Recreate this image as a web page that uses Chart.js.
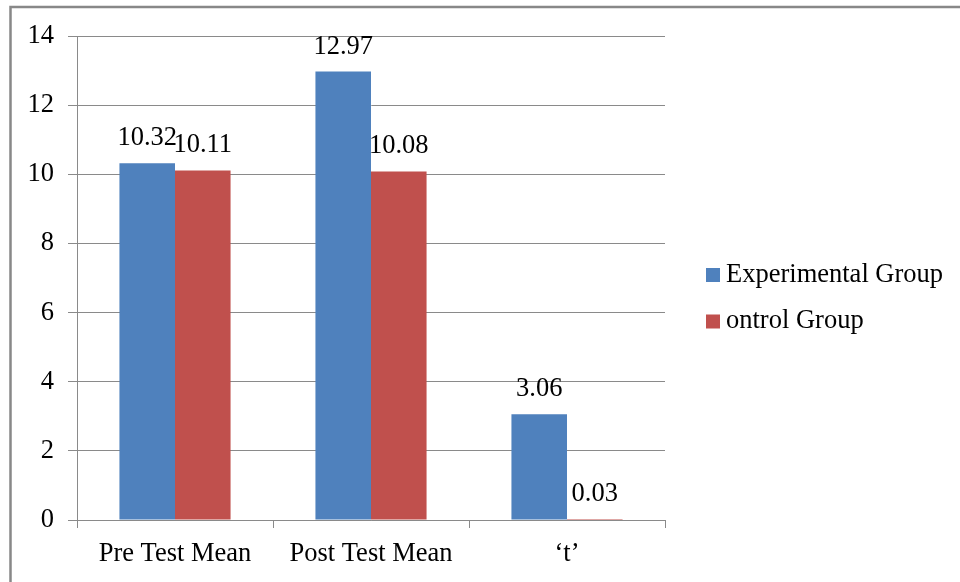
<!DOCTYPE html>
<html>
<head>
<meta charset="utf-8">
<script src="https://cdn.jsdelivr.net/npm/chart.js@4.4.0/dist/chart.umd.min.js"></script>
<style>
  body { margin: 0; background: #fff; }
  .chart_wrap { position: relative; width: 960px; height: 582px; }
</style>
</head>
<body>
<div class="chart_wrap"><canvas id="barChart"></canvas></div>
<script>
// 데이터
var categories = ['Pre Test Mean', 'Post Test Mean', '\u2018t\u2019'];
var seriesNames = ['Experimental Group', 'ontrol Group'];
var experimentalValues = [10.32, 12.97, 3.06];
var controlValues = [10.11, 10.08, 0.03];
var yTicks = [0, 2, 4, 6, 8, 10, 12, 14];

var seriesColors = ['#4F81BD', '#C0504D'];
var gridColor = '#8a8a8a';
var serifFont = '"Liberation Serif", "Times New Roman", serif';
var fontSize = 26.5;

Chart.defaults.font.family = serifFont;
Chart.defaults.font.size = fontSize;
Chart.defaults.color = '#000';

// 바깥 테두리
var outerFrame = {
  id: 'outerFrame',
  beforeDraw: function(chart) {
    var ctx = chart.ctx;
    ctx.save();
    ctx.strokeStyle = '#888';
    ctx.lineWidth = 2.5;
    ctx.strokeRect(10.5, 7, 1000, 1000);
    ctx.restore();
  }
};

// 막대 위 값 표시
var valueLabels = {
  id: 'valueLabels',
  afterDatasetsDraw: function(chart) {
    var ctx = chart.ctx;
    ctx.save();
    ctx.font = fontSize + 'px ' + serifFont;
    ctx.fillStyle = '#000';
    ctx.textAlign = 'center';
    ctx.textBaseline = 'middle';
    chart.data.datasets.forEach(function(ds, i) {
      chart.getDatasetMeta(i).data.forEach(function(bar, j) {
        ctx.fillText(ds.data[j].toFixed(2), bar.x, bar.y - 25);
      });
    });
    ctx.restore();
  }
};

// 오른쪽 범례
var sideLegend = {
  id: 'sideLegend',
  afterDraw: function(chart) {
    var ctx = chart.ctx;
    var x = chart.chartArea.right + 41;
    var y = 275;
    ctx.save();
    ctx.font = fontSize + 'px ' + serifFont;
    ctx.textAlign = 'left';
    ctx.textBaseline = 'middle';
    chart.data.datasets.forEach(function(ds) {
      ctx.fillStyle = ds.backgroundColor;
      ctx.fillRect(x, y - 7, 14, 14);
      ctx.fillStyle = '#000';
      ctx.fillText(ds.label, x + 20, y);
      y += 46.5;
    });
    ctx.restore();
  }
};

var barChart = document.getElementById('barChart');
var myChart = new Chart(barChart, {
  type: 'bar',
  data: {
    labels: categories,
    datasets: [{
      label: seriesNames[0],
      data: experimentalValues,
      backgroundColor: seriesColors[0],
      borderWidth: 0
    }, {
      label: seriesNames[1],
      data: controlValues,
      backgroundColor: seriesColors[1],
      borderWidth: 0
    }]
  },
  options: {
    responsive: true,
    maintainAspectRatio: false,
    animation: false,
    categoryPercentage: 0.567,
    barPercentage: 1,
    layout: {
      padding: { top: 36, right: 295, left: 0, bottom: 0 }
    },
    scales: {
      x: {
        grid: {
          drawOnChartArea: false,
          color: gridColor,
          tickLength: 8
        },
        border: { color: gridColor },
        ticks: { padding: 10 },
        afterFit: function(scale) { scale.height = 62; }
      },
      y: {
        min: 0,
        max: 14,
        afterBuildTicks: function(scale) {
          scale.ticks = yTicks.map(function(v) { return { value: v }; });
        },
        grid: {
          color: gridColor,
          tickLength: 9
        },
        border: { color: gridColor },
        ticks: { padding: 14 },
        afterFit: function(scale) { scale.width = 77; }
      }
    },
    plugins: {
      legend: { display: false },
      tooltip: { enabled: false }
    },
    events: []
  },
  plugins: [outerFrame, valueLabels, sideLegend]
});
</script>
</body>
</html>
